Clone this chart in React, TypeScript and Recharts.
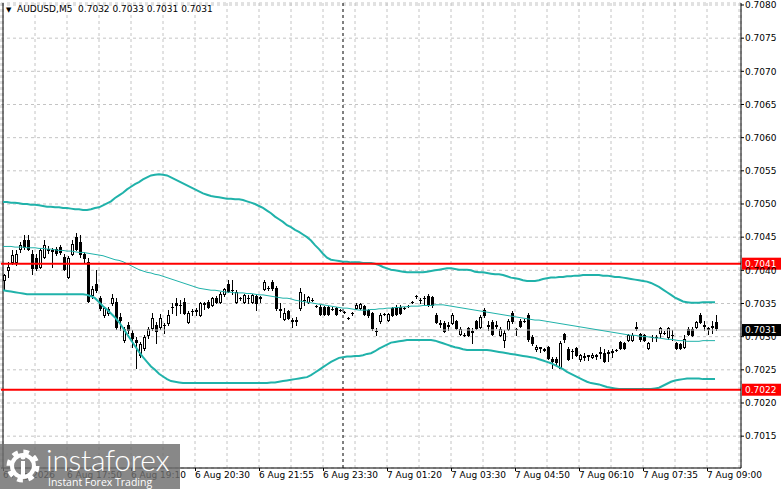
import { ComposedChart, Bar, Line, XAxis, YAxis, CartesianGrid, ReferenceLine } from "recharts";

// prices are written in pips above 0.7000
const BASE = 0.7;
const PIP = 0.0001;
const toPrice = (pips: number) => +(BASE + pips * PIP).toFixed(6);

// [open, high, low, close], M5 candles from 6 Aug 16:30
const candles: number[][] = [
  [38.5, 39.5, 37.2, 39.3], [40.0, 41.3, 39.0, 40.5], [41.3, 43.0, 41.0, 42.3], [41.2, 43.0, 40.8, 42.5],
  [43.2, 44.3, 42.8, 43.8], [44.6, 45.3, 43.2, 43.5], [44.5, 45.3, 43.0, 43.2], [42.5, 43.0, 39.5, 40.3],
  [41.8, 42.5, 40.0, 40.3], [40.5, 43.3, 40.3, 43.0], [42.0, 44.5, 41.8, 43.8], [43.0, 43.6, 42.6, 43.2],
  [43.0, 43.4, 40.5, 42.9], [43.2, 43.5, 42.3, 42.6], [43.5, 43.8, 42.5, 42.7], [42.0, 42.4, 40.0, 40.2],
  [39.0, 42.2, 38.8, 41.8], [42.5, 44.5, 42.3, 44.0], [45.0, 45.6, 43.0, 43.2], [44.3, 45.3, 42.0, 42.5],
  [42.5, 42.8, 41.3, 41.8], [41.2, 41.8, 35.2, 35.4], [36.3, 37.6, 35.8, 37.2], [37.9, 40.0, 36.8, 37.0],
  [35.8, 36.2, 34.0, 34.3], [33.2, 34.5, 33.0, 34.3], [33.5, 34.5, 33.2, 34.2], [35.0, 36.5, 34.8, 35.8],
  [35.3, 35.8, 31.2, 31.5], [33.0, 33.5, 31.0, 32.5], [29.5, 31.5, 29.2, 31.2], [31.8, 32.2, 30.5, 31.0],
  [30.5, 31.0, 28.5, 29.8], [29.5, 30.0, 25.3, 29.2], [27.3, 29.2, 27.0, 28.9], [28.3, 30.3, 28.0, 30.0],
  [30.2, 31.5, 29.8, 31.2], [31.3, 33.5, 31.0, 32.8], [31.8, 32.2, 29.0, 30.8], [31.5, 33.4, 31.2, 32.8],
  [31.8, 32.0, 30.5, 31.7], [32.0, 34.0, 31.8, 33.3], [34.5, 35.0, 33.5, 34.4], [35.0, 35.8, 33.3, 34.8],
  [34.8, 35.5, 33.5, 34.7], [35.3, 35.8, 33.4, 33.6], [32.2, 33.8, 32.0, 33.5], [33.8, 34.2, 33.2, 33.9],
  [34.0, 34.3, 33.3, 33.8], [33.3, 35.3, 33.1, 35.0], [35.0, 35.3, 34.2, 34.9], [35.3, 35.5, 34.3, 34.5],
  [34.8, 36.0, 34.6, 35.8], [35.8, 36.2, 35.0, 35.2], [35.3, 36.8, 35.1, 36.5], [36.4, 37.4, 36.2, 37.2],
  [38.0, 38.5, 36.7, 36.9], [37.0, 38.5, 36.5, 37.1], [35.3, 37.0, 35.0, 36.8], [35.8, 36.0, 35.6, 35.8],
  [35.2, 36.5, 35.0, 36.3], [35.9, 36.3, 35.0, 35.8], [35.3, 36.5, 35.1, 36.3], [36.2, 36.4, 34.0, 35.0],
  [36.0, 36.2, 35.3, 35.9], [37.2, 38.5, 37.0, 38.3], [37.3, 37.6, 37.1, 37.3], [38.3, 38.5, 37.0, 37.3],
  [37.3, 37.6, 34.0, 34.3], [34.0, 35.0, 33.0, 34.2], [32.7, 34.3, 32.5, 33.5], [33.8, 34.0, 32.6, 32.8],
  [32.4, 32.8, 31.5, 32.5], [32.5, 33.0, 31.8, 32.4], [34.3, 37.3, 34.0, 36.8], [35.6, 36.4, 34.8, 35.6],
  [35.3, 36.2, 35.1, 36.0], [35.6, 35.8, 35.4, 35.6], [34.6, 34.8, 34.4, 34.6], [34.5, 34.7, 33.2, 33.4],
  [34.4, 34.6, 33.2, 33.4], [34.5, 34.6, 33.2, 33.4], [34.2, 34.4, 34.0, 34.2], [34.3, 34.5, 33.2, 33.4],
  [34.0, 34.2, 33.8, 34.0], [33.7, 33.9, 33.5, 33.7], [32.8, 33.0, 32.6, 32.8], [33.5, 33.7, 33.3, 33.5],
  [34.3, 35.0, 34.1, 34.8], [34.3, 35.0, 34.1, 34.9], [34.6, 34.8, 33.2, 33.4], [34.0, 34.2, 33.0, 33.3],
  [33.5, 33.7, 31.0, 31.3], [30.8, 31.3, 30.2, 30.9], [32.3, 33.5, 32.0, 33.3], [33.4, 33.6, 33.2, 33.4],
  [32.5, 33.5, 32.3, 33.4], [34.3, 34.5, 33.1, 33.3], [34.5, 34.7, 33.2, 33.4], [34.5, 34.7, 33.4, 33.6],
  [34.3, 34.5, 34.1, 34.3], [34.6, 34.8, 34.4, 34.6], [35.2, 35.4, 35.0, 35.2], [36.1, 36.3, 35.9, 36.1],
  [35.6, 35.8, 35.0, 35.6], [35.8, 36.2, 34.8, 35.9], [36.2, 36.4, 34.6, 34.8], [36.0, 36.2, 34.5, 34.7],
  [33.3, 33.5, 32.0, 32.2], [32.0, 32.5, 31.4, 31.9], [32.1, 32.3, 30.7, 30.8], [31.6, 32.2, 31.0, 31.7],
  [32.1, 33.5, 31.9, 33.3], [32.3, 32.5, 31.1, 31.3], [30.4, 31.4, 30.2, 31.2], [30.3, 30.5, 30.1, 30.3],
  [31.3, 31.5, 30.1, 30.3], [30.8, 31.3, 29.0, 30.7], [32.3, 32.5, 31.1, 31.3], [31.5, 33.2, 31.3, 33.0],
  [34.0, 34.3, 33.0, 33.2], [31.6, 32.4, 31.0, 31.7], [32.2, 32.5, 30.2, 30.4], [31.8, 32.4, 31.3, 31.6],
  [30.3, 31.4, 30.1, 31.2], [29.5, 31.0, 28.5, 30.5], [31.2, 32.6, 31.0, 32.3], [33.5, 33.9, 32.1, 32.3],
  [31.2, 31.3, 30.3, 31.1], [32.4, 32.6, 31.4, 31.6], [32.4, 32.6, 32.2, 32.4], [33.3, 33.5, 29.3, 29.6],
  [30.0, 30.2, 28.7, 29.0], [28.2, 28.7, 27.8, 28.4], [28.4, 28.5, 27.7, 28.3], [28.0, 28.3, 27.8, 28.1],
  [28.4, 28.6, 26.6, 26.8], [26.6, 26.9, 25.2, 26.4], [26.7, 26.9, 25.8, 26.2], [25.3, 29.3, 25.2, 29.0],
  [30.4, 30.6, 29.2, 29.6], [28.2, 28.4, 26.5, 26.6], [27.9, 28.1, 26.8, 27.8], [28.3, 28.5, 27.1, 27.3],
  [26.6, 27.4, 26.4, 27.2], [27.0, 27.5, 26.5, 27.1], [27.2, 27.3, 26.5, 27.1], [27.0, 27.5, 26.8, 27.2],
  [27.2, 27.4, 26.6, 27.1], [27.5, 28.5, 26.8, 27.7], [27.6, 28.2, 26.2, 26.4], [27.7, 28.0, 26.3, 27.6],
  [27.8, 28.2, 27.0, 27.7], [28.0, 28.2, 27.8, 28.0], [29.2, 29.4, 28.1, 28.3], [29.0, 29.2, 28.1, 28.3],
  [29.5, 30.4, 29.3, 30.2], [29.5, 30.5, 29.3, 30.3], [31.3, 32.2, 31.0, 31.4], [30.4, 30.6, 29.4, 29.6],
  [30.2, 30.4, 29.3, 29.5], [28.3, 29.2, 28.1, 29.0], [30.0, 30.2, 29.3, 29.9], [29.9, 30.3, 29.3, 30.0],
  [30.5, 31.5, 30.0, 31.3], [30.6, 30.8, 30.4, 30.6], [30.0, 31.5, 29.6, 31.3], [30.3, 31.0, 29.5, 30.2],
  [29.0, 29.2, 28.1, 28.3], [28.9, 29.1, 28.1, 28.3], [28.5, 30.2, 28.3, 29.6], [31.2, 31.4, 30.2, 30.4],
  [31.2, 31.4, 30.1, 30.3], [31.5, 32.4, 31.3, 32.2], [33.3, 33.5, 32.0, 32.2], [31.6, 32.3, 31.0, 31.7],
  [31.3, 31.5, 30.4, 31.2], [31.5, 32.3, 30.5, 31.6], [32.2, 33.2, 31.0, 31.3],
];

// Bollinger Bands (20), pips
const upperBand = [
  50.3, 50.3, 50.2, 50.2, 50.1, 50.0, 50.0, 49.9, 49.9, 49.8, 49.7, 49.6, 49.6, 49.5, 49.5, 49.4,
  49.4, 49.3, 49.2, 49.2, 49.1, 49.1, 49.2, 49.4, 49.5, 49.8, 50.1, 50.4, 50.9, 51.3, 51.7, 52.2,
  52.6, 53.0, 53.3, 53.7, 54.0, 54.3, 54.4, 54.5, 54.4, 54.3, 54.0, 53.7, 53.4, 53.1, 52.8, 52.5,
  52.2, 51.9, 51.6, 51.4, 51.2, 51.1, 51.0, 50.9, 50.8, 50.8, 50.7, 50.7, 50.6, 50.4, 50.2, 50.0,
  49.7, 49.4, 49.0, 48.6, 48.1, 47.7, 47.3, 46.8, 46.5, 46.1, 45.8, 45.4, 45.0, 44.5, 43.8, 43.2,
  42.5, 41.9, 41.6, 41.5, 41.4, 41.3, 41.3, 41.2, 41.2, 41.2, 41.1, 41.1, 41.1, 41.0, 40.8, 40.5,
  40.3, 40.1, 40.0, 39.9, 39.8, 39.7, 39.7, 39.7, 39.7, 39.7, 39.8, 39.9, 40.0, 40.1, 40.2, 40.3,
  40.3, 40.2, 40.1, 40.1, 40.1, 40.0, 39.8, 39.7, 39.7, 39.6, 39.5, 39.4, 39.4, 39.3, 39.1, 38.9,
  38.8, 38.7, 38.5, 38.4, 38.4, 38.4, 38.5, 38.7, 38.8, 38.9, 38.9, 39.0, 39.0, 39.1, 39.1, 39.2,
  39.2, 39.3, 39.3, 39.3, 39.3, 39.3, 39.2, 39.2, 39.1, 39.0, 39.0, 38.9, 38.8, 38.7, 38.6, 38.5,
  38.4, 38.3, 38.1, 37.8, 37.5, 37.1, 36.7, 36.3, 35.9, 35.6, 35.3, 35.2, 35.1, 35.1, 35.1, 35.2,
  35.2, 35.2, 35.2,
];

const middleBand = [
  43.6, 43.6, 43.6, 43.5, 43.5, 43.5, 43.4, 43.4, 43.4, 43.3, 43.3, 43.2, 43.2, 43.1, 43.0, 43.0,
  42.9, 42.9, 42.8, 42.7, 42.7, 42.6, 42.5, 42.4, 42.3, 42.2, 42.0, 41.8, 41.6, 41.5, 41.3, 41.0,
  40.7, 40.4, 40.1, 39.9, 39.7, 39.6, 39.4, 39.3, 39.1, 38.9, 38.7, 38.5, 38.3, 38.1, 37.9, 37.7,
  37.5, 37.3, 37.2, 37.1, 37.0, 37.0, 36.9, 36.8, 36.7, 36.7, 36.6, 36.6, 36.6, 36.5, 36.5, 36.4,
  36.3, 36.3, 36.2, 36.1, 36.0, 35.9, 35.8, 35.8, 35.7, 35.5, 35.4, 35.3, 35.2, 35.1, 35.0, 34.9,
  34.8, 34.7, 34.6, 34.5, 34.4, 34.3, 34.3, 34.2, 34.1, 34.0, 34.0, 34.0, 34.1, 34.1, 34.2, 34.2,
  34.3, 34.3, 34.4, 34.4, 34.5, 34.5, 34.6, 34.6, 34.6, 34.7, 34.7, 34.7, 34.8, 34.8, 34.8, 34.7,
  34.6, 34.5, 34.4, 34.3, 34.2, 34.1, 34.0, 33.9, 33.8, 33.7, 33.6, 33.5, 33.4, 33.3, 33.2, 33.1,
  33.0, 32.9, 32.8, 32.7, 32.6, 32.5, 32.5, 32.4, 32.3, 32.2, 32.1, 32.0, 31.9, 31.8, 31.7, 31.6,
  31.5, 31.4, 31.3, 31.2, 31.1, 31.0, 30.9, 30.8, 30.7, 30.6, 30.5, 30.4, 30.3, 30.2, 30.2, 30.1,
  30.0, 30.0, 29.9, 29.8, 29.8, 29.7, 29.6, 29.6, 29.5, 29.4, 29.4, 29.3, 29.3, 29.3, 29.3, 29.4,
  29.4, 29.4, 29.4,
];

const lowerBand = [
  37.0, 36.9, 36.8, 36.7, 36.6, 36.5, 36.4, 36.4, 36.4, 36.4, 36.4, 36.4, 36.4, 36.4, 36.4, 36.4,
  36.4, 36.4, 36.4, 36.4, 36.4, 36.3, 36.1, 35.8, 35.2, 34.6, 34.1, 33.5, 32.9, 32.2, 31.3, 30.4,
  29.5, 28.6, 27.7, 26.9, 26.2, 25.5, 25.0, 24.4, 24.0, 23.6, 23.3, 23.2, 23.1, 23.0, 23.0, 23.0,
  23.0, 23.0, 23.0, 23.0, 23.0, 23.0, 23.0, 23.0, 23.0, 23.0, 23.0, 23.0, 23.0, 23.0, 23.0, 23.0,
  23.0, 23.0, 23.0, 23.1, 23.1, 23.2, 23.3, 23.4, 23.5, 23.6, 23.7, 23.8, 23.9, 24.2, 24.6, 25.0,
  25.4, 25.8, 26.2, 26.5, 26.8, 26.9, 27.0, 27.0, 27.1, 27.1, 27.2, 27.4, 27.5, 27.8, 28.2, 28.5,
  28.8, 29.1, 29.2, 29.3, 29.4, 29.5, 29.5, 29.5, 29.5, 29.5, 29.5, 29.5, 29.4, 29.2, 29.0, 28.8,
  28.6, 28.4, 28.3, 28.1, 28.0, 28.0, 28.0, 28.0, 28.0, 28.0, 27.9, 27.8, 27.7, 27.6, 27.5, 27.4,
  27.3, 27.2, 27.1, 27.0, 26.9, 26.8, 26.6, 26.4, 26.2, 26.0, 25.7, 25.4, 25.1, 24.7, 24.4, 24.1,
  23.8, 23.5, 23.2, 23.0, 22.9, 22.8, 22.6, 22.4, 22.3, 22.2, 22.1, 22.1, 22.1, 22.1, 22.1, 22.1,
  22.1, 22.1, 22.1, 22.2, 22.3, 22.6, 22.9, 23.2, 23.4, 23.5, 23.6, 23.7, 23.7, 23.7, 23.7, 23.6,
  23.6, 23.6, 23.6,
];

// time axis: a label every 16 bars, grid every 8 bars
const labelIndexes = [0, 16, 32, 48, 64, 80, 96, 112, 128, 144, 160, 176];
const timeLabels = [
  "6 Aug 2026", "6 Aug 17:50", "6 Aug 19:10", "6 Aug 20:30", "6 Aug 21:55", "6 Aug 23:30",
  "7 Aug 01:20", "7 Aug 03:30", "7 Aug 04:50", "7 Aug 06:10", "7 Aug 07:35", "7 Aug 09:00",
];
const priceTicks = [0.7015, 0.702, 0.7025, 0.703, 0.7035, 0.704, 0.7045, 0.705, 0.7055, 0.706, 0.7065, 0.707, 0.7075, 0.708];
const resistance = 0.7041;
const support = 0.7022;
const lastPrice = 0.7031;
const separatorBar = 85;

const SLOTS = 185;
const TEAL = "#20b2aa";
const FONT = "'DejaVu Sans', Tahoma, sans-serif";

const rows = Array.from({ length: SLOTS }, (_, i) => {
  const c = candles[i];
  return {
    i,
    hl: c ? [toPrice(c[2]), toPrice(c[1])] : undefined,
    o: c ? toPrice(c[0]) : null,
    h: c ? toPrice(c[1]) : null,
    l: c ? toPrice(c[2]) : null,
    c: c ? toPrice(c[3]) : null,
    upper: upperBand[i] != null ? toPrice(upperBand[i]) : null,
    middle: middleBand[i] != null ? toPrice(middleBand[i]) : null,
    lower: lowerBand[i] != null ? toPrice(lowerBand[i]) : null,
  };
});
const gridTicks = rows.filter((r) => r.i % 8 === 0).map((r) => r.i);

const Candle = (props: any) => {
  const { x, y, width, height, payload } = props;
  if (!payload || payload.o == null) return null;
  const top = Math.min(y, y + height);
  const bottom = Math.max(y, y + height);
  const span = payload.h - payload.l || 1e-9;
  const toY = (v: number) => top + ((payload.h - v) / span) * (bottom - top);
  const px = Math.round(x + width / 2) + 0.5;
  const yo = toY(payload.o);
  const yc = toY(payload.c);
  const bull = payload.c > payload.o;
  const bTop = Math.round(Math.min(yo, yc)) + 0.5;
  const bBot = Math.round(Math.max(yo, yc)) + 0.5;
  return (
    <g shapeRendering="crispEdges">
      <line x1={px} x2={px} y1={Math.round(top)} y2={Math.round(bottom) + 1} stroke="#000" strokeWidth={1} />
      {bBot - bTop < 1 ? (
        <line x1={px - 1.5} x2={px + 1.5} y1={bTop} y2={bTop} stroke="#000" strokeWidth={1} />
      ) : (
        <rect x={px - 1} y={bTop} width={2} height={bBot - bTop} fill={bull ? "#fff" : "#000"} stroke="#000" strokeWidth={1} />
      )}
    </g>
  );
};

const TimeTick = (props: any) => {
  const { x, y, payload } = props;
  const k = labelIndexes.indexOf(payload.value);
  if (k < 0) return null;
  return (
    <g>
      <line x1={x + 0.5} x2={x + 0.5} y1={y - 4} y2={y - 1} stroke="#000" />
      <text x={x} y={y} dy="0.71em" fill="#000" fontSize={9} fontFamily={FONT} textAnchor="start">
        {timeLabels[k]}
      </text>
    </g>
  );
};

const PriceTag = ({ viewBox, value, bg }: any) => {
  if (!viewBox) return null;
  const left = viewBox.x + viewBox.width + 1;
  return (
    <g>
      <rect x={left} y={viewBox.y - 6} width={40} height={12} fill={bg} />
      <text x={left + 3} y={viewBox.y} dy="0.35em" fill="#fff" fontSize={9} fontFamily={FONT}>
        {value.toFixed(4)}
      </text>
    </g>
  );
};

const Gear = () => (
  <svg width={40} height={38} style={{ position: "absolute", left: 4, top: 3 }}>
    <circle cx={19} cy={19} r={13} fill="none" stroke="#fff" strokeWidth={7} strokeDasharray="5.2 5" />
    <circle cx={19} cy={19} r={11} fill="none" stroke="#fff" strokeWidth={4} />
    <rect x={17} y={14} width={4} height={14} fill="#fff" />
    <circle cx={19} cy={10} r={2.5} fill="#fff" />
  </svg>
);

export default function App() {
  return (
    <div style={{ position: "fixed", left: 0, top: 0, width: 781, height: 489, background: "#fff", overflow: "hidden" }}>
      <ComposedChart width={781} height={489} data={rows} margin={{ top: 3, right: 0, bottom: 0, left: 1 }}>
        <CartesianGrid stroke="#c4c4c4" strokeDasharray="3 3" />
        <XAxis
          dataKey="i"
          type="category"
          ticks={gridTicks}
          interval={0}
          height={21}
          tickSize={3}
          tickMargin={1}
          tickLine={false}
          axisLine={{ stroke: "#000" }}
          tick={<TimeTick />}
        />
        <YAxis
          orientation="right"
          width={40}
          domain={[0.70102, 0.70803]}
          allowDataOverflow
          ticks={priceTicks}
          interval={0}
          tickSize={3}
          tickMargin={1}
          axisLine={{ stroke: "#000" }}
          tickLine={{ stroke: "#000" }}
          tick={{ fill: "#000", fontSize: 9, fontFamily: FONT, textAnchor: "start" }}
          tickFormatter={(v: number) => v.toFixed(4)}
        />
        <ReferenceLine x={0} stroke="#000" />
        <ReferenceLine x={separatorBar} stroke="#000" strokeDasharray="3 3" />
        <ReferenceLine y={lastPrice} stroke="#c0c0c0" label={(p: any) => <PriceTag viewBox={p.viewBox} value={lastPrice} bg="#000" />} />
        <Line dataKey="upper" stroke={TEAL} strokeWidth={2} dot={false} isAnimationActive={false} />
        <Line dataKey="middle" stroke={TEAL} strokeWidth={1} dot={false} isAnimationActive={false} />
        <Line dataKey="lower" stroke={TEAL} strokeWidth={2} dot={false} isAnimationActive={false} />
        <Bar dataKey="hl" barSize={3} shape={<Candle />} isAnimationActive={false} />
        <ReferenceLine y={resistance} stroke="#ff0000" strokeWidth={2} label={(p: any) => <PriceTag viewBox={p.viewBox} value={resistance} bg="#ff0000" />} />
        <ReferenceLine y={support} stroke="#ff0000" strokeWidth={2} label={(p: any) => <PriceTag viewBox={p.viewBox} value={support} bg="#ff0000" />} />
      </ComposedChart>

      <div style={{ position: "absolute", left: 6, top: 4, fontFamily: FONT, fontSize: 9, color: "#000", whiteSpace: "pre", lineHeight: "10px" }}>
        <span style={{ fontSize: 7 }}>▼</span>
        {"  AUDUSD,M5  0.7032 0.7033 0.7031 0.7031"}
      </div>

      <div style={{ position: "absolute", left: 0, top: 444, width: 180, height: 45, background: "rgba(110,110,110,0.82)" }}>
        <Gear />
        <div style={{ position: "absolute", left: 46, top: -3, color: "#fff", fontFamily: "Lato, 'Open Sans', sans-serif", fontWeight: 300, fontSize: 30, letterSpacing: -0.3 }}>
          instaforex
        </div>
        <div style={{ position: "absolute", left: 48, top: 31, color: "#fff", fontFamily: "'Open Sans', sans-serif", fontSize: 10.5 }}>
          Instant Forex Trading
        </div>
      </div>
    </div>
  );
}
